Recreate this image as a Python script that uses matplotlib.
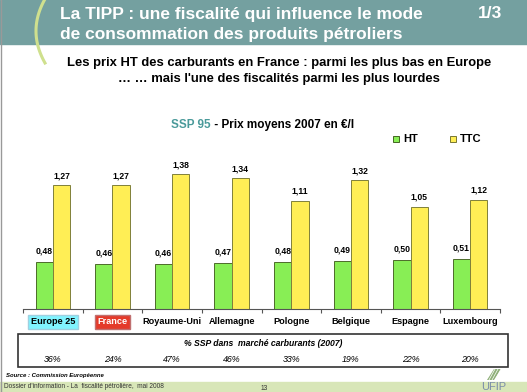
import numpy as np
import matplotlib
matplotlib.use('Agg')
import matplotlib.pyplot as plt
from matplotlib.patches import Rectangle, Polygon
from matplotlib.lines import Line2D

plt.rcParams['font.family'] = ['Liberation Sans', 'DejaVu Sans']

# data
countries = ['Europe 25', 'France', 'Royaume-Uni', 'Allemagne', 'Pologne',
             'Belgique', 'Espagne', 'Luxembourg']
ht = [0.48, 0.46, 0.46, 0.47, 0.48, 0.49, 0.50, 0.51]
ttc = [1.27, 1.27, 1.38, 1.34, 1.11, 1.32, 1.05, 1.12]
ssp_share = ['36%', '24%', '47%', '46%', '33%', '19%', '22%', '20%']

W, H = 527, 392
fig = plt.figure(figsize=(W / 100, H / 100), dpi=100)


def fx(px):
    return px / W


def fy(py):
    return 1 - py / H


# header band
fig.patches.append(Rectangle((0, fy(44)), 1, 44 / H, transform=fig.transFigure,
                             color='#74a0a0', zorder=0))
t = np.linspace(-1, 1, 50)
arc_x = 36 + 9 * t ** 2
arc_y = 31 + 32 * t
fig.add_artist(Line2D(fx(arc_x), fy(arc_y), color='#cfe08e', lw=2.2,
                      transform=fig.transFigure))
fig.text(fx(60), fy(14), 'La TIPP : une fiscalité qui influence le mode',
         color='white', fontsize=12.5, fontweight='bold', va='center')
fig.text(fx(60), fy(35), 'de consommation des produits pétroliers',
         color='white', fontsize=12.5, fontweight='bold', va='center')
fig.text(fx(502), fy(14), '1/3', color='white', fontsize=12.5,
         fontweight='bold', va='center', ha='right')

fig.text(fx(279), fy(63),
         'Les prix HT des carburants en France : parmi les plus bas en Europe',
         fontsize=9.35, fontweight='bold', ha='center', va='center')
fig.text(fx(279), fy(79), '… … mais l\'une des fiscalités parmi les plus lourdes',
         fontsize=9.35, fontweight='bold', ha='center', va='center')

# chart title
fig.text(fx(211), fy(125), 'SSP 95', color='#4a9a9a', fontsize=8.5,
         fontweight='bold', ha='right', va='center')
fig.text(fx(211), fy(125), ' - Prix moyens 2007 en €/l', color='black',
         fontsize=8.5, fontweight='bold', ha='left', va='center')

# legend
for x0, col, ec, lab in [(393, '#88ee55', '#446622', 'HT'),
                         (450, '#ffee55', '#777733', 'TTC')]:
    fig.patches.append(Rectangle((fx(x0), fy(142)), 6 / W, 6 / H,
                                 transform=fig.transFigure, facecolor=col,
                                 edgecolor=ec, lw=0.7))
    fig.text(fx(x0 + 10), fy(139), lab, fontsize=8, fontweight='bold',
             va='center')

# bars
ax = fig.add_axes([fx(23), fy(309), 477 / W, 159 / H])
x = np.arange(len(countries))
w = 0.29
ax.bar(x - w / 2, ht, w, color='#88ee55', edgecolor='#4d6b2a', lw=0.7)
ax.bar(x + w / 2, ttc, w, color='#ffee55', edgecolor='#80803a', lw=0.7)
for i in range(len(countries)):
    ax.text(x[i] - w / 2, ht[i] + 0.07, f'{ht[i]:.2f}'.replace('.', ','),
            ha='center', va='bottom', fontsize=6.2, fontweight='bold')
    ax.text(x[i] + w / 2, ttc[i] + 0.05, f'{ttc[i]:.2f}'.replace('.', ','),
            ha='center', va='bottom', fontsize=6.2, fontweight='bold')
ax.set_xlim(-0.5, len(countries) - 0.5)
ax.set_ylim(0, 159 / 97.5)
for s in ['top', 'right', 'left']:
    ax.spines[s].set_visible(False)
ax.spines['bottom'].set_color('#555555')
ax.spines['bottom'].set_linewidth(0.8)
ax.set_yticks([])
ax.set_xticks(np.arange(-0.5, len(countries), 1))
ax.set_xticklabels([])
ax.tick_params(axis='x', length=3, width=0.8, color='#555555')

# category labels
styles = {'Europe 25': dict(boxstyle='square,pad=0.3', fc='#80f4ff', ec='#a0d0e0'),
          'France': dict(boxstyle='square,pad=0.3', fc='#e43a2a', ec='#c07070')}
for i, c in enumerate(countries):
    xc = 23 + (i + 0.5) * 477 / len(countries)
    fig.text(fx(xc), fy(322), c, fontsize=6.6, fontweight='bold',
             ha='center', va='center',
             color='white' if c == 'France' else 'black',
             bbox=styles.get(c))

# share table
fig.patches.append(Rectangle((fx(18), fy(367)), 490 / W, 33 / H,
                             transform=fig.transFigure, fill=False,
                             edgecolor='#333333', lw=1.2))
fig.text(fx(263), fy(343), '% SSP dans  marché carburants (2007)',
         fontsize=6.2, fontweight='bold', style='italic', ha='center',
         va='center')
for i, s in enumerate(ssp_share):
    xc = 23 + (i + 0.5) * 477 / len(countries)
    fig.text(fx(xc), fy(360), s, fontsize=6.4, style='italic',
             ha='center', va='center')

fig.text(fx(6), fy(376), 'Source : Commission Européenne', fontsize=4.3,
         fontweight='bold', style='italic', va='center')

# footer
fig.patches.append(Rectangle((0, 0), 1, 10 / H, transform=fig.transFigure,
                             color='#d8e6b8', zorder=0))
fig.text(fx(4), fy(387), 'Dossier d\'information - La  fiscalité pétrolière,  mai 2008',
         fontsize=4.7, color='#333333', va='center')
fig.text(fx(264), fy(388), '13', fontsize=4.8, color='#333333',
         va='center', ha='center')

# UFIP logo
fig.patches.append(Polygon([(fx(487), fy(380)), (fx(494), fy(369)),
                            (fx(501), fy(369)), (fx(494), fy(380))],
                           closed=True, transform=fig.transFigure,
                           facecolor='#8fb07a', edgecolor='none'))
for k in range(3):
    fig.add_artist(Line2D([fx(489 + 3 * k), fx(495 + 3 * k)],
                          [fy(380), fy(369)], color='white', lw=0.5,
                          transform=fig.transFigure))
fig.text(fx(494), fy(387), 'UFIP', fontsize=8, color='#7a8ca8',
         ha='center', va='center')

# slide border
fig.add_artist(Line2D([fx(0.5), fx(0.5)], [0, 1], color='#999999', lw=1,
                      transform=fig.transFigure))

fig.savefig('out.png', dpi=100)
